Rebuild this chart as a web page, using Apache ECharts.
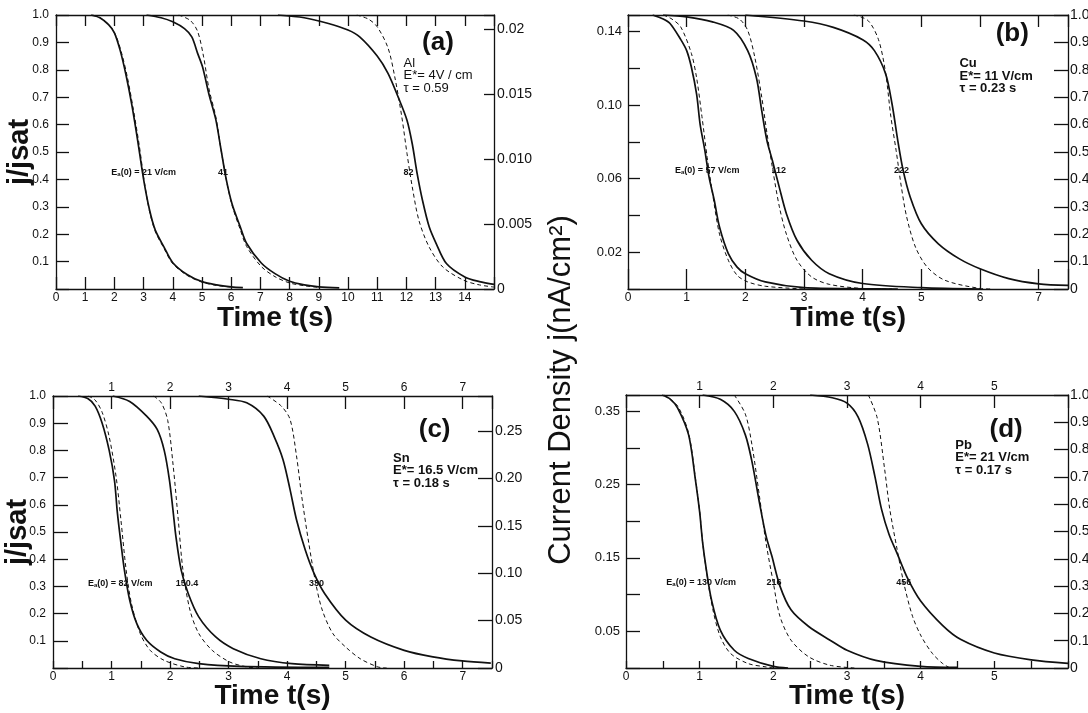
<!DOCTYPE html>
<html><head><meta charset="utf-8">
<script src="https://cdn.jsdelivr.net/npm/echarts@6/dist/echarts.min.js"></script>
<style>html,body{margin:0;padding:0;background:#fff}#c{width:1088px;height:713px}</style>
</head><body><div id="c"></div>
<script>
// ---------- data: [time (s), j/jsat] ----------
// (a) Al
const a21Solid = [[1.2,1.0],[1.5,0.99],[1.8,0.965],[2.0,0.935],[2.2,0.87],[2.4,0.78],[2.6,0.67],[2.8,0.54],[3.0,0.40],[3.2,0.29],[3.4,0.215],[3.7,0.153],[4.0,0.096],[4.5,0.052],[5.0,0.027],[5.5,0.015],[6.0,0.008],[6.4,0.005]];
const a21Dash  = [[1.25,1.0],[1.55,0.988],[1.85,0.96],[2.05,0.925],[2.25,0.86],[2.45,0.77],[2.65,0.655],[2.85,0.525],[3.02,0.395],[3.2,0.285],[3.4,0.21],[3.7,0.148],[4.0,0.092],[4.5,0.049],[5.0,0.025],[5.5,0.013],[6.0,0.007]];
const a41Solid = [[3.1,1.0],[3.6,0.99],[4.0,0.975],[4.4,0.95],[4.65,0.92],[4.85,0.86],[5.02,0.81],[5.24,0.71],[5.47,0.62],[5.65,0.51],[5.83,0.40],[6.03,0.31],[6.3,0.23],[6.53,0.166],[7.03,0.095],[7.5,0.056],[8.0,0.028],[8.5,0.015],[9.0,0.008],[9.7,0.004]];
const a41Dash  = [[4.2,1.0],[4.6,0.98],[4.85,0.94],[5.05,0.85],[5.24,0.73],[5.47,0.63],[5.65,0.51],[5.83,0.40],[6.03,0.305],[6.3,0.22],[6.53,0.155],[7.03,0.082],[7.5,0.045],[8.0,0.022],[8.5,0.012],[9.0,0.006]];
const a82Solid = [[7.6,1.0],[8.5,0.99],[9.3,0.97],[10.0,0.945],[10.4,0.92],[11.0,0.85],[11.37,0.787],[11.72,0.70],[12.02,0.616],[12.2,0.53],[12.37,0.42],[12.55,0.324],[12.78,0.227],[13.02,0.166],[13.37,0.093],[14.0,0.044],[14.5,0.027],[15.0,0.017]];
const a82Dash  = [[10.3,1.0],[10.7,0.985],[11.0,0.957],[11.37,0.88],[11.6,0.775],[11.84,0.63],[12.02,0.495],[12.2,0.373],[12.43,0.25],[12.78,0.153],[13.25,0.08],[13.96,0.032],[14.5,0.015],[15.0,0.007]];
// (b) Cu
const b57Solid  = [[0.42,1.0],[0.6,0.985],[0.72,0.968],[0.9,0.91],[1.0,0.87],[1.08,0.81],[1.17,0.71],[1.23,0.60],[1.31,0.506],[1.38,0.41],[1.47,0.324],[1.56,0.226],[1.71,0.129],[1.86,0.08],[2.0,0.056],[2.34,0.026],[3.0,0.005],[4.0,0.001],[4.6,0.0]];
const b57Dash   = [[0.6,1.0],[0.75,0.985],[0.9,0.956],[1.08,0.86],[1.17,0.77],[1.26,0.63],[1.35,0.48],[1.44,0.35],[1.56,0.2],[1.71,0.105],[1.86,0.05],[2.04,0.026],[2.34,0.01],[3.0,0.0]];
const b112Solid = [[0.6,1.0],[1.0,0.993],[1.44,0.975],[1.8,0.944],[2.04,0.87],[2.19,0.77],[2.28,0.65],[2.37,0.54],[2.46,0.47],[2.58,0.37],[2.7,0.275],[2.88,0.178],[3.13,0.105],[3.43,0.056],[4.0,0.02],[5.0,0.005],[6.0,0.0]];
const b112Dash  = [[1.7,1.0],[1.9,0.985],[2.04,0.944],[2.16,0.847],[2.28,0.70],[2.37,0.567],[2.46,0.445],[2.58,0.30],[2.7,0.2],[2.88,0.105],[3.13,0.044],[3.43,0.017],[4.0,0.002],[4.5,0.0]];
const b222Solid = [[2.0,1.0],[3.0,0.978],[3.5,0.955],[4.0,0.91],[4.2,0.87],[4.39,0.786],[4.5,0.676],[4.6,0.54],[4.69,0.433],[4.81,0.336],[5.0,0.238],[5.29,0.165],[5.65,0.11],[6.0,0.074],[6.49,0.038],[7.0,0.019],[7.5,0.013]];
const b222Dash  = [[3.85,1.0],[4.09,0.98],[4.27,0.91],[4.39,0.79],[4.48,0.63],[4.57,0.506],[4.66,0.372],[4.75,0.263],[4.9,0.153],[5.1,0.08],[5.4,0.032],[6.0,0.002],[6.2,0.0]];
// (c) Sn
const c82Solid  = [[0.43,1.0],[0.6,0.99],[0.72,0.963],[0.84,0.90],[0.96,0.80],[1.05,0.69],[1.1,0.57],[1.16,0.46],[1.22,0.36],[1.31,0.25],[1.43,0.164],[1.6,0.102],[1.84,0.059],[2.08,0.034],[2.49,0.016],[3.19,0.006],[4.72,0.002]];
const c82Dash   = [[0.6,1.0],[0.72,0.985],[0.84,0.94],[0.96,0.85],[1.08,0.70],[1.16,0.545],[1.25,0.36],[1.34,0.237],[1.49,0.127],[1.66,0.065],[1.9,0.028],[2.25,0.004],[2.5,0.0]];
const c150Solid = [[1.02,1.0],[1.31,0.98],[1.6,0.926],[1.78,0.877],[1.9,0.80],[1.99,0.69],[2.05,0.58],[2.1,0.483],[2.19,0.36],[2.31,0.274],[2.49,0.188],[2.78,0.114],[3.08,0.071],[3.55,0.034],[4.08,0.016],[4.72,0.01]];
const c150Dash  = [[1.72,1.0],[1.85,0.975],[1.96,0.91],[2.05,0.75],[2.14,0.545],[2.22,0.36],[2.34,0.213],[2.49,0.127],[2.72,0.065],[3.02,0.022],[3.31,0.004],[3.5,0.0]];
const c330Solid = [[2.49,1.0],[3.0,0.988],[3.31,0.975],[3.6,0.926],[3.78,0.85],[3.93,0.766],[4.05,0.656],[4.16,0.545],[4.31,0.434],[4.46,0.348],[4.64,0.274],[5.0,0.176],[5.43,0.114],[6.0,0.065],[6.49,0.041],[6.99,0.026],[7.48,0.018]];
const c330Dash  = [[3.66,1.0],[3.9,0.963],[4.05,0.914],[4.16,0.78],[4.25,0.63],[4.37,0.459],[4.49,0.31],[4.6,0.213],[4.78,0.127],[5.0,0.077],[5.25,0.034],[5.55,0.004],[5.7,0.0]];
// (d) Pb
const d130Solid = [[0.49,1.0],[0.6,0.985],[0.7,0.953],[0.85,0.854],[0.94,0.694],[1.0,0.571],[1.04,0.46],[1.09,0.361],[1.16,0.25],[1.28,0.139],[1.47,0.065],[1.66,0.035],[2.0,0.006],[2.2,0.0]];
const d130Dash  = [[0.52,1.0],[0.7,0.96],[0.85,0.86],[0.94,0.70],[1.0,0.575],[1.04,0.46],[1.1,0.34],[1.18,0.213],[1.28,0.115],[1.42,0.053],[1.66,0.016],[1.9,0.004],[2.0,0.0]];
const d216Solid = [[1.04,1.0],[1.28,0.984],[1.47,0.94],[1.62,0.854],[1.71,0.756],[1.81,0.608],[1.9,0.485],[1.98,0.41],[2.09,0.3],[2.24,0.213],[2.48,0.152],[2.77,0.102],[3.0,0.065],[3.39,0.028],[4.0,0.006],[4.5,0.002]];
const d216Dash  = [[1.47,1.0],[1.62,0.93],[1.71,0.817],[1.81,0.632],[1.9,0.46],[2.0,0.312],[2.09,0.189],[2.24,0.102],[2.48,0.041],[2.77,0.01],[3.1,0.0]];
const d456Solid = [[2.5,1.0],[2.8,0.99],[3.0,0.97],[3.15,0.92],[3.28,0.82],[3.38,0.70],[3.47,0.58],[3.57,0.49],[3.68,0.42],[3.82,0.33],[4.0,0.245],[4.3,0.155],[4.54,0.105],[5.0,0.055],[5.5,0.03],[6.0,0.017]];
const d456Dash  = [[3.29,1.0],[3.41,0.916],[3.51,0.73],[3.58,0.583],[3.68,0.435],[3.77,0.312],[3.89,0.189],[4.01,0.115],[4.16,0.053],[4.3,0.016],[4.4,0.0]];

// tick labels / annotations text
const panelLetters = ['(a)','(b)','(c)','(d)'];
const materialText = [['Al','E*= 4V / cm','τ = 0.59'],['Cu','E*= 11 V/cm','τ = 0.23 s'],['Sn','E*= 16.5 V/cm','τ = 0.18 s'],['Pb','E*= 21 V/cm','τ = 0.17 s']];
const fieldLabels = [['21 V/cm','41','82'],['57 V/cm','112','222'],['82 V/cm','150.4','330'],['130 V/cm','216','456']];

// ---------- chart ----------
const FONT = '"Liberation Sans", Arial, Helvetica, sans-serif';
const INK = '#111';
const grids = [
  {left:56, top:15, width:438, height:274, outerBoundsMode:'none', containLabel:false},
  {left:628, top:15, width:440, height:274, outerBoundsMode:'none', containLabel:false},
  {left:53, top:396, width:439, height:272, outerBoundsMode:'none', containLabel:false},
  {left:626, top:395, width:442, height:273, outerBoundsMode:'none', containLabel:false}
];
const curves = [
  [a21Solid,a21Dash,a41Solid,a41Dash,a82Solid,a82Dash],
  [b57Solid,b57Dash,b112Solid,b112Dash,b222Solid,b222Dash],
  [c82Solid,c82Dash,c150Solid,c150Dash,c330Solid,c330Dash],
  [d130Solid,d130Dash,d216Solid,d216Dash,d456Solid,d456Dash]
];

function axLine(){return {show:true,onZero:false,lineStyle:{color:INK,width:1.3}};}
function lab(size, margin, fmt){return {show:true,color:INK,fontFamily:FONT,fontSize:size,margin:margin,formatter:fmt,showMinLabel:true,showMaxLabel:true};}
function tick(len){return {show:true,inside:true,length:len,lineStyle:{color:INK,width:1.3}};}
const intLab = (maxShow)=> (v)=> (Math.abs(v-Math.round(v))<1e-6 && v<=maxShow+1e-6) ? String(Math.round(v)) : '';
const intLabNo0 = (maxShow)=> (v)=> (v>0.5 && Math.abs(v-Math.round(v))<1e-6 && v<=maxShow+1e-6) ? String(Math.round(v)) : '';
const timeName = (gap)=>({name:'Time t(s)',nameLocation:'middle',nameGap:gap,nameMoveOverlap:false,nameTextStyle:{fontFamily:FONT,fontSize:28,fontWeight:'bold',color:INK,verticalAlign:'top'}});
const jName = (gap)=>({name:'j/jsat',nameLocation:'middle',nameGap:gap,nameMoveOverlap:false,nameTextStyle:{fontFamily:FONT,fontSize:29,fontWeight:'bold',color:INK}});

const xAxes = [], yAxes = [];
// panel a
xAxes.push(Object.assign({gridIndex:0,type:'value',position:'bottom',min:0,max:15,interval:1,axisLine:axLine(),axisTick:tick(12),splitLine:{show:false},axisLabel:lab(12,3,intLab(14))},timeName(15)));
xAxes.push({gridIndex:0,type:'value',position:'top',min:0,max:15,interval:1,axisLine:axLine(),axisTick:tick(11),splitLine:{show:false},axisLabel:{show:false}});
yAxes.push(Object.assign({gridIndex:0,type:'value',position:'left',min:0,max:1,interval:0.1,axisLine:axLine(),axisTick:tick(13),splitLine:{show:false},
  axisLabel:lab(12,7,(v)=> v<1e-6?'':v.toFixed(1))},jName(22)));
yAxes.push({gridIndex:0,type:'value',position:'right',min:0,max:0.0211,interval:0.005,axisLine:axLine(),axisTick:tick(10),splitLine:{show:false},
  axisLabel:lab(14,3,(v)=>{const k=Math.round(v*1000);const m={0:'0',5:'0.005',10:'0.010',15:'0.015',20:'0.02'};return (Math.abs(v*1000-k)<1e-6 && m[k]!==undefined)?m[k]:'';})});
// panel b
xAxes.push(Object.assign({gridIndex:1,type:'value',position:'bottom',min:0,max:7.5,interval:1,axisLine:axLine(),axisTick:tick(20),splitLine:{show:false},axisLabel:lab(12,3,intLab(7))},timeName(15)));
xAxes.push({gridIndex:1,type:'value',position:'top',min:0,max:7.5,interval:1,axisLine:axLine(),axisTick:tick(12),splitLine:{show:false},axisLabel:{show:false}});
yAxes.push({gridIndex:1,type:'value',position:'left',min:0,max:0.149,interval:0.02,axisLine:axLine(),axisTick:tick(12),splitLine:{show:false},
  axisLabel:lab(13,6,(v)=>{const k=Math.round(v*100);return (Math.abs(v*100-k)<1e-6 && k%4===2)?v.toFixed(2):'';})});
yAxes.push({gridIndex:1,type:'value',position:'right',min:0,max:1,interval:0.1,axisLine:axLine(),axisTick:tick(14),splitLine:{show:false},
  axisLabel:lab(14,2,(v)=> v<1e-6?'0':v.toFixed(1))});
// panel c
xAxes.push(Object.assign({gridIndex:2,type:'value',position:'bottom',min:0,max:7.5,interval:0.5,axisLine:axLine(),axisTick:tick(7),splitLine:{show:false},axisLabel:lab(12,3,intLab(7))},timeName(14)));
xAxes.push({gridIndex:2,type:'value',position:'top',min:0,max:7.5,interval:1,axisLine:axLine(),axisTick:tick(13),splitLine:{show:false},axisLabel:lab(12,2,intLabNo0(7))});
yAxes.push(Object.assign({gridIndex:2,type:'value',position:'left',min:0,max:1,interval:0.1,axisLine:axLine(),axisTick:tick(15),splitLine:{show:false},
  axisLabel:lab(12,7,(v)=> v<1e-6?'':v.toFixed(1))},jName(21)));
yAxes.push({gridIndex:2,type:'value',position:'right',min:0,max:0.287,interval:0.05,axisLine:axLine(),axisTick:tick(14),splitLine:{show:false},
  axisLabel:lab(14,3,(v)=>{const k=Math.round(v*100);if(Math.abs(v*100-k)>1e-6||k%5!==0)return '';return k===0?'0':v.toFixed(2);})});
// panel d
xAxes.push(Object.assign({gridIndex:3,type:'value',position:'bottom',min:0,max:6,interval:0.5,axisLine:axLine(),axisTick:tick(7),splitLine:{show:false},axisLabel:lab(12,3,intLab(5))},timeName(14)));
xAxes.push({gridIndex:3,type:'value',position:'top',min:0,max:6,interval:1,axisLine:axLine(),axisTick:tick(13),splitLine:{show:false},axisLabel:lab(12,2,intLabNo0(5))});
yAxes.push({gridIndex:3,type:'value',position:'left',min:0,max:0.372,interval:0.05,axisLine:axLine(),axisTick:tick(14),splitLine:{show:false},
  axisLabel:lab(13,6,(v)=>{const k=Math.round(v*100);return (Math.abs(v*100-k)<1e-6 && k%10===5)?v.toFixed(2):'';})});
yAxes.push({gridIndex:3,type:'value',position:'right',min:0,max:1,interval:0.1,axisLine:axLine(),axisTick:tick(14),splitLine:{show:false},
  axisLabel:lab(14,2,(v)=> v<1e-6?'0':v.toFixed(1))});

const series = [];
curves.forEach((list,p)=>{
  list.forEach((d,i)=>{
    const dashed = i%2===1;
    series.push({type:'line',xAxisIndex:2*p,yAxisIndex:(p===0||p===2)?2*p:2*p+1,data:d,showSymbol:false,symbol:'none',smooth:0.3,
      silent:true,animation:false,clip:true,
      lineStyle:dashed?{color:INK,width:1,type:[4,3]}:{color:INK,width:1.7}});
  });
});

const chart = echarts.init(document.getElementById('c'));
chart.setOption({backgroundColor:'#fff',animation:false,grid:grids,xAxis:xAxes,yAxis:yAxes,series:series});

// ---------- annotations placed in data coordinates ----------
const letterPos = [[13.08,0.90],[6.55,0.93],[6.52,0.877],[5.16,0.873]];
const matPos = [[11.9,0.825],[5.65,0.822],[5.81,0.772],[4.47,0.817]];
const matBold = [false,true,true,true];
const fieldPos = [
  [[3.0,0.425],[5.72,0.425],[12.07,0.425]],
  [[1.35,0.433],[2.57,0.433],[4.66,0.433]],
  [[1.15,0.311],[2.29,0.311],[4.5,0.311]],
  [[1.02,0.312],[2.01,0.312],[3.77,0.312]]
];
const graphics = [];
for(let p=0;p<4;p++){
  const s = p*6;
  const toPx = (pt)=> chart.convertToPixel({seriesIndex:s}, pt);
  const lp = toPx(letterPos[p]);
  graphics.push({type:'text',x:lp[0],y:lp[1],style:{text:panelLetters[p],fontFamily:FONT,fontSize:26,fontWeight:'bold',fill:INK,align:'center',verticalAlign:'middle'}});
  const mp = toPx(matPos[p]);
  materialText[p].forEach((t,i)=>{
    graphics.push({type:'text',x:mp[0],y:mp[1]+i*12.5,style:{text:t,fontFamily:FONT,fontSize:13,fontWeight:matBold[p]?'bold':'normal',fill:INK,align:'left',verticalAlign:'middle'}});
  });
  fieldPos[p].forEach((pt,i)=>{
    const q = toPx(pt);
    if(i===0){
      graphics.push({type:'text',x:q[0],y:q[1],style:{text:'{n|E}{s|a}{n|(0) = '+fieldLabels[p][0]+'}',align:'center',verticalAlign:'middle',
        rich:{n:{fontFamily:FONT,fontSize:9,fontWeight:'bold',fill:INK,color:INK},s:{fontFamily:FONT,fontSize:6,fontWeight:'bold',fill:INK,color:INK,verticalAlign:'bottom',padding:[4,0,0,0]}}}});
    } else {
      graphics.push({type:'text',x:q[0],y:q[1],style:{text:fieldLabels[p][i],fontFamily:FONT,fontSize:9,fontWeight:'bold',fill:INK,align:'center',verticalAlign:'middle'}});
    }
  });
}
graphics.push({type:'text',x:561,y:390,rotation:Math.PI/2,style:{text:'Current Density j(nA/cm²)',fontFamily:FONT,fontSize:31,fill:INK,align:'center',verticalAlign:'middle'}});
chart.setOption({graphic:graphics});
</script>
</body></html>
